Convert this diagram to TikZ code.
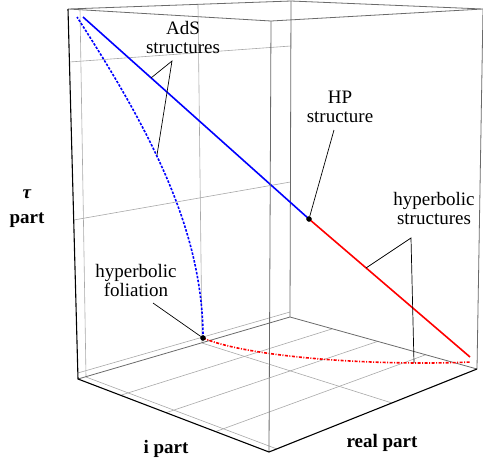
\documentclass[tikz,border=0pt]{standalone}
\usepackage{fontspec}
\setmainfont{Liberation Serif}
\usetikzlibrary{positioning}
\definecolor{edgegray}{HTML}{6A6A6A}
\definecolor{gridgray}{HTML}{A8A8A8}
\definecolor{curveblue}{HTML}{0000FF}
\definecolor{curvered}{HTML}{FF0000}
\tikzset{
  boxedge/.style={draw=edgegray, line width=0.8pt},
  axisedge/.style={draw=black, line width=1.1pt},
  gridline/.style={draw=gridgray, line width=0.6pt},
  solidcurve/.style={line width=1.6pt},
  dashcurve/.style={line width=1.6pt, dash pattern=on 2.5pt off 1.5pt},
  dotcurve/.style={line width=1.6pt, dash pattern=on 3pt off 1.5pt on 1pt off 1.5pt},
  remark/.style={font=\fontsize{19}{19}\selectfont, align=center, inner sep=0pt},
  axisname/.style={font=\fontsize{19}{25}\selectfont\bfseries, align=center, inner sep=0pt},
  pointer/.style={draw=black, line width=0.7pt},
  marker/.style={circle, fill=black, draw=black, inner sep=0pt, minimum size=5pt}
}

\begin{document}
\begin{tikzpicture}[x=1pt, y=-1pt]
  \useasboundingbox (0,0) rectangle (483,461);

  \coordinate (topL) at (68,9);
  \coordinate (topB) at (291,1);
  \coordinate (topR) at (483,9);
  \coordinate (topF) at (271,21);
  \coordinate (botL) at (78,379);
  \coordinate (botB) at (290,317);
  \coordinate (botR) at (477,369);
  \coordinate (botF) at (269,452);

  % face grids
  \draw[gridline] (69.4,62) -- (290.8,46);
  \draw[gridline] (73.7,220) -- (290.4,182);
  \draw[gridline] (77.8,373) -- (290,312);
  \draw[gridline] (80,8.5) -- (86,377);
  \draw[gridline] (198,4.4) -- (202,343);
  \draw[gridline] (86,377) -- (277,449);
  \draw[gridline] (202,343) -- (392,403);
  \draw[gridline] (120.5,395.3) -- (332.4,328.8);
  \draw[gridline] (166.2,412.7) -- (377.6,341.4);
  \draw[gridline] (215.6,431.6) -- (425.8,354.7);

  \draw[boxedge] (topL) -- (topB) -- (topR) -- (topF) -- cycle;
  \draw[boxedge] (topB) -- (botB);
  \draw[boxedge] (botL) -- (botB) -- (botR);
  \draw[boxedge] (topR) -- (botR);

  \coordinate (hp) at (309,219);
  \coordinate (fol) at (203,338);
  \coordinate (adsS) at (83,17);
  \coordinate (adsD) at (77,17);
  \coordinate (hypS) at (470,357);
  \coordinate (hypD) at (471,362);

  \draw[solidcurve, curveblue] (adsS) -- (hp);
  \draw[solidcurve, curvered] (hp) -- (hypS);
  \draw[dashcurve, curveblue] (fol) .. controls (203,230) and (150,130) .. (adsD);
  \draw[dotcurve, curvered] (fol) .. controls (250,358) and (380,366) .. (hypD);

  \draw[boxedge] (topF) -- (botF);
  \draw[axisedge] (topL) -- (botL) -- (botF) -- (botR);

  \node[marker] (hpdot) at (hp) {};
  \node[marker] (foldot) at (fol) {};

  \node[remark, anchor=base] (adslabel) at (183,53) {AdS\\structures};
  \node[remark, anchor=base] (hplabel) at (340,122) {HP\\structure};
  \node[remark, anchor=base] (hyplabel) at (434,224) {hyperbolic\\structures};
  \node[remark, anchor=base] (follabel) at (136,296) {hyperbolic\\foliation};

  \coordinate (adsfork) at (172,61);
  \coordinate (adshitS) at (151,78);
  \coordinate (adshitD) at (157,155);
  \coordinate (hpfork) at (334,130);
  \coordinate (hypfork) at (411,238);
  \coordinate (hyphitS) at (366,268);
  \coordinate (hyphitD) at (414,363);
  \coordinate (folfork) at (153,303);

  \draw[pointer] (adshitS) -- (adsfork) -- (adshitD);
  \draw[pointer] (hpfork) -- (hpdot);
  \draw[pointer] (hyphitS) -- (hypfork) -- (hyphitD);
  \draw[pointer] (folfork) -- (foldot);

  \node[axisname, anchor=base] (taulabel) at (27,223) {\textit{τ}\\part};
  \node[axisname, anchor=base] (ilabel) at (166,453) {i part};
  \node[axisname, anchor=base] (reallabel) at (382,447) {real part};
\end{tikzpicture}
\end{document}
